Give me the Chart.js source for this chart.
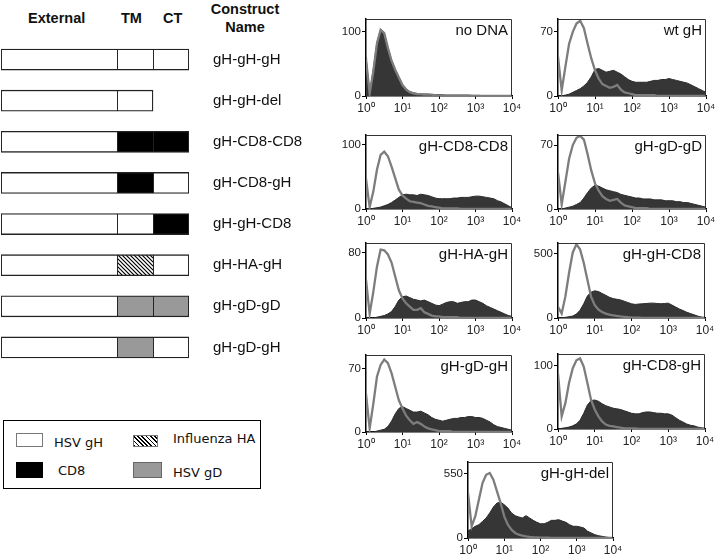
<!DOCTYPE html>
<html>
<head>
<meta charset="UTF-8">
<title>gH chimeric constructs - surface expression</title>
<script src="https://cdn.jsdelivr.net/npm/chart.js"></script>
<style>
  body { margin: 0; background: #fff; font-family: 'Liberation Sans', Arial, sans-serif; }
  #wrap { position: relative; width: 716px; height: 557px; overflow: hidden; }
  .hdr { position: absolute; font-weight: bold; font-size: 14.5px; line-height: 14.5px; color: #111; white-space: nowrap; }
  .plabel { position: absolute; font-size: 15px; line-height: 15px; color: #111; white-space: nowrap; text-align: right; }
  #legend { position: absolute; left: 3px; top: 420px; width: 256px; height: 67px; border: 1.3px solid #000;
            font-family: 'DejaVu Sans', sans-serif; font-size: 13px; color: #111; }
  .sw { position: absolute; box-sizing: border-box; }
  .lt { position: absolute; line-height: 13px; white-space: nowrap; }
</style>
</head>
<body>
<div id="wrap">
  <div class="hdr" style="left:28px;top:11px">External</div>
  <div class="hdr" style="left:121px;top:11px">TM</div>
  <div class="hdr" style="left:163px;top:11px">CT</div>
  <div class="hdr" style="left:195px;top:1px;width:100px;text-align:center;line-height:17.5px">Construct<br>Name</div>
  <canvas id="constructs" width="320" height="349" style="position:absolute;left:0;top:29px"></canvas>

  <div id="legend">
    <div class="sw" style="left:12px;top:12px;width:27px;height:14px;border:1px solid #777;background:#fff"></div>
    <div class="lt" style="left:50px;top:14.5px">HSV gH</div>
    <div class="sw" style="left:129px;top:14px;width:25px;height:12px;border:1px solid #777;
         background:repeating-linear-gradient(45deg,#000 0 1.2px,#fff 1.2px 3px)"></div>
    <div class="lt" style="left:169px;top:10.5px">Influenza HA</div>
    <div class="sw" style="left:12px;top:41px;width:27px;height:16px;background:#000"></div>
    <div class="lt" style="left:54px;top:42.5px">CD8</div>
    <div class="sw" style="left:129px;top:41px;width:29px;height:16px;border:1px solid #666;background:#999"></div>
    <div class="lt" style="left:169px;top:44.5px">HSV gD</div>
  </div>
</div>

<script>
// ---- construct diagram ----
const constructNames = ['gH-gH-gH', 'gH-gH-del', 'gH-CD8-CD8', 'gH-CD8-gH', 'gH-gH-CD8', 'gH-HA-gH', 'gH-gD-gD', 'gH-gD-gH'];
const tmDomain = ['gH', 'gH', 'CD8', 'CD8', 'gH', 'HA', 'gD', 'gD'];
const ctDomain = ['gH', null, 'CD8', 'gH', 'CD8', 'gH', 'gD', 'gH'];
// relative domain lengths
const externalLen = [116, 116, 116, 116, 116, 116, 116, 116];
const tmLen = [36, 36, 36, 36, 36, 36, 36, 36];
const ctLen = [36, null, 36, 36, 36, 36, 36, 36];

// ---- histograms: x = log10 fluorescence (decades), y = cell counts ----
const decades = [0, 0.1, 0.2, 0.3, 0.4, 0.5, 0.6, 0.7, 0.8, 0.9,
  1, 1.1, 1.2, 1.3, 1.4, 1.5, 1.6, 1.7, 1.8, 1.9,
  2, 2.1, 2.2, 2.3, 2.4, 2.5, 2.6, 2.7, 2.8, 2.9,
  3, 3.1, 3.2, 3.3, 3.4, 3.5, 3.6, 3.7, 3.8, 3.9, 4];
const decadeTicks = [0, 1, 2, 3, 4];
const decadeLabels = ['10⁰', '10¹', '10²', '10³', '10⁴'];

const panelNames = ['no DNA', 'wt gH', 'gH-CD8-CD8', 'gH-gD-gD', 'gH-HA-gH', 'gH-gH-CD8', 'gH-gD-gH', 'gH-CD8-gH', 'gH-gH-del'];
const countMax = [120, 84, 115, 81, 92, 580, 85, 119, 650];
const countTick = [100, 70, 100, 70, 80, 500, 70, 100, 550];

const noDnaCtrl = [58,4,38,82,103,98,75,55,41,29, 17,10,6,4,3,3,2,2,2,1, 1,1,1,1,1,1,1,1,1,0, 0,0,0,0,0,0,0,0,0,0, 0];
const noDnaCells = [60,5,42,84,104,99,76,56,42,30, 18,11,7,5,4,3,3,3,2,2, 2,2,1,1,1,1,1,1,1,1, 1,1,0,0,0,0,0,0,0,0, 0];
const wtCtrl = [43,6,32,57,70,79,82,74,57,41, 28,19,13,11,9,10,12,7,4,3, 2,1,1,1,1,1,1,0,0,0, 0,0,0,0,0,0,0,0,0,0, 0];
const wtCells = [0,0,1,2,4,6,8,11,15,21, 29,30,28,26,27,28,26,24,21,18, 16,15,15,15,15,16,17,17,18,18, 19,18,17,16,15,14,12,10,8,6, 4];
const cd8cd8Ctrl = [47,3,27,61,84,89,82,66,48,30, 21,16,12,11,10,9,7,5,4,3, 2,1,1,1,1,1,0,0,0,0, 0,0,0,0,0,0,0,0,0,0, 0];
const cd8cd8Cells = [0,0,1,2,3,5,7,10,14,18, 22,23,22,22,21,23,22,21,19,17, 16,16,16,16,17,17,18,18,18,19, 20,20,19,18,17,16,13,11,8,5, 2];
const gDgDCtrl = [40,5,30,55,70,78,80,76,60,42, 28,20,14,11,9,10,11,7,4,3, 2,1,1,1,1,0,0,0,0,0, 0,0,0,0,0,0,0,0,0,0, 0];
const gDgDCells = [0,0,1,2,3,5,7,12,18,23, 26,25,23,21,20,19,18,16,15,14, 13,12,12,11,11,11,10,10,10,9, 9,9,8,8,7,7,6,5,4,3, 2];
const haCtrl = [47,5,32,63,84,83,78,68,51,34, 24,18,14,10,10,12,7,5,3,2, 2,1,1,1,1,1,0,0,0,0, 0,0,0,0,0,0,0,0,0,0, 0];
const haCells = [0,0,0,1,2,3,5,8,14,22, 26,27,25,23,22,21,22,20,18,16, 15,17,19,20,20,18,19,20,20,22, 22,20,18,15,13,11,9,7,5,3, 2];
const gHcd8Ctrl = [86,34,165,348,505,570,531,427,296,165, 99,65,47,34,26,21,16,12,9,6, 4,3,2,1,1,1,0,0,0,0, 0,0,0,0,0,0,0,0,0,0, 0];
const gHcd8Cells = [0,2,5,10,15,30,60,110,170,200, 210,205,190,175,160,150,145,140,130,120, 110,105,108,110,112,115,115,112,110,112, 115,100,85,70,58,45,35,25,15,8, 3];
const gDgHCtrl = [42,4,31,61,74,80,76,65,50,35, 26,18,13,9,11,9,6,4,3,2, 1,1,1,1,0,0,0,0,0,0, 0,0,0,0,0,0,0,0,0,0, 0];
const gDgHCells = [0,0,0,1,2,3,6,12,20,26, 28,26,24,22,22,23,21,19,16,14, 13,12,13,14,15,15,16,16,17,17, 16,16,15,13,11,8,6,5,4,3, 2];
const cd8gHCtrl = [88,20,41,73,96,109,112,99,73,46, 31,20,12,7,5,4,3,2,1,1, 1,1,0,0,0,0,0,0,0,0, 0,0,0,0,0,0,0,0,0,0, 0];
const cd8gHCells = [0,1,2,3,5,8,14,25,38,45, 46,44,40,37,35,33,32,31,29,27, 25,24,24,26,27,27,26,25,25,24, 24,22,18,14,11,8,6,5,3,2, 1];
const delCtrl = [385,100,185,328,470,541,556,499,399,299, 185,114,71,43,28,20,14,10,7,5, 3,2,2,1,1,1,0,0,0,0, 0,0,0,0,0,0,0,0,0,0, 0];
const delCells = [60,80,100,114,142,171,214,265,299,305, 285,256,214,191,180,171,191,171,151,134, 122,122,134,151,151,157,145,134,114,100, 100,94,85,57,43,28,20,14,8,4, 2];

const ctrlSeries = [noDnaCtrl, wtCtrl, cd8cd8Ctrl, gDgDCtrl, haCtrl, gHcd8Ctrl, gDgHCtrl, cd8gHCtrl, delCtrl];
const cellSeries = [noDnaCells, wtCells, cd8cd8Cells, gDgDCells, haCells, gHcd8Cells, gDgHCells, cd8gHCells, delCells];

// plot-area boxes on the page
const panelBoxes = [
  { l: 366, t: 19, w: 146, h: 77 }, { l: 558, t: 19, w: 148, h: 77 },
  { l: 366, t: 135, w: 146, h: 74 }, { l: 558, t: 135, w: 148, h: 74 },
  { l: 366, t: 243, w: 146, h: 75 }, { l: 558, t: 243, w: 147, h: 75 },
  { l: 366, t: 355, w: 146, h: 77 }, { l: 558, t: 354, w: 147, h: 75 },
  { l: 468, t: 462, w: 145, h: 76 }
];

const FONT = "'Liberation Sans', Arial, sans-serif";
Chart.defaults.font.family = FONT;

// hatch for the influenza HA domain
function makeHatch() {
  const c = document.createElement('canvas');
  c.width = 4; c.height = 4;
  const g = c.getContext('2d');
  g.fillStyle = '#fff'; g.fillRect(0, 0, 4, 4);
  g.strokeStyle = '#000'; g.lineWidth = 1.2;
  g.beginPath();
  g.moveTo(-1, -1); g.lineTo(5, 5);
  g.moveTo(-1, 3); g.lineTo(1, 5);
  g.moveTo(3, -1); g.lineTo(5, 1);
  g.stroke();
  return g.createPattern(c, 'repeat');
}
const domainFill = { gH: '#ffffff', CD8: '#000000', gD: '#999999', HA: makeHatch() };

const B = 1.3;
const barCommon = { borderColor: '#222', borderSkipped: false, barThickness: 21 };
new Chart(document.getElementById('constructs'), {
  type: 'bar',
  data: {
    labels: constructNames,
    datasets: [
      { ...barCommon, label: 'External', data: externalLen,
        backgroundColor: constructNames.map(() => domainFill.gH),
        borderWidth: { top: B, bottom: B, left: B, right: 0 } },
      { ...barCommon, label: 'TM', data: tmLen,
        backgroundColor: tmDomain.map(d => domainFill[d]),
        borderWidth: ctx => ({ top: B, bottom: B, left: B, right: ctLen[ctx.dataIndex] == null ? B : 0 }) },
      { ...barCommon, label: 'CT', data: ctLen,
        backgroundColor: ctDomain.map(d => d ? domainFill[d] : 'rgba(0,0,0,0)'),
        borderWidth: B }
    ]
  },
  options: {
    indexAxis: 'y',
    responsive: false,
    animation: false,
    events: [],
    layout: { padding: { left: 1, right: 0, top: 10, bottom: 10 } },
    plugins: { legend: { display: false }, tooltip: { enabled: false } },
    scales: {
      x: { stacked: true, display: false, min: 0, max: 188 },
      y: {
        stacked: true,
        position: 'right',
        grid: { display: false, drawTicks: true, tickLength: 24 },
        border: { display: false },
        ticks: { padding: 0, color: '#111', font: { size: 15, family: FONT } },
        afterFit: s => { s.width = 131; }
      }
    }
  }
});

// frame on top and right of each histogram
const frame = {
  id: 'frame',
  afterDraw(c) {
    const { left, top, right, bottom } = c.chartArea;
    const g = c.ctx;
    g.save();
    g.strokeStyle = '#333';
    g.lineWidth = 1;
    g.beginPath();
    g.moveTo(left, top + 0.5);
    g.lineTo(right - 0.5, top + 0.5);
    g.lineTo(right - 0.5, bottom);
    g.stroke();
    g.restore();
  }
};

const wrap = document.getElementById('wrap');
const padL = 36, padT = 10, padR = 14, padB = 22;

panelNames.forEach((name, i) => {
  const box = panelBoxes[i];
  const cv = document.createElement('canvas');
  cv.width = box.w + padL + padR;
  cv.height = box.h + padT + padB;
  cv.style.position = 'absolute';
  cv.style.left = (box.l - padL) + 'px';
  cv.style.top = (box.t - padT) + 'px';
  wrap.appendChild(cv);

  const ctrl = ctrlSeries[i], cells = cellSeries[i];
  new Chart(cv, {
    type: 'line',
    data: {
      datasets: [
        { label: 'control', data: decades.map((x, k) => ({ x, y: ctrl[k] })),
          borderColor: '#7d7d7d', borderWidth: 2.3, pointRadius: 0, fill: false },
        { label: name, data: decades.map((x, k) => ({ x, y: cells[k] })),
          borderColor: '#2a2a2a', borderWidth: 1, backgroundColor: '#363636', pointRadius: 0, fill: 'origin' }
      ]
    },
    options: {
      responsive: false,
      animation: false,
      events: [],
      layout: { padding: { left: 0, top: padT, right: padR, bottom: 0 } },
      plugins: { legend: { display: false }, tooltip: { enabled: false } },
      scales: {
        x: {
          type: 'linear', min: 0, max: 4,
          afterBuildTicks: s => { s.ticks = decadeTicks.map(v => ({ value: v })); },
          ticks: { callback: v => decadeLabels[v], maxRotation: 0, autoSkip: false, padding: 2,
                   color: '#222', font: { size: 12 } },
          grid: { drawOnChartArea: false, tickLength: 3, color: '#000' },
          border: { color: '#000', width: 1.5 },
          afterFit: s => { s.height = padB; }
        },
        y: {
          min: 0, max: countMax[i],
          afterBuildTicks: s => { s.ticks = [{ value: 0 }, { value: countTick[i] }]; },
          ticks: { padding: 1, color: '#222', font: { size: 11.5 } },
          grid: { drawOnChartArea: false, tickLength: 4, color: '#000' },
          border: { color: '#000', width: 1.5 },
          afterFit: s => { s.width = padL; }
        }
      }
    },
    plugins: [frame]
  });

  const lab = document.createElement('div');
  lab.className = 'plabel';
  lab.textContent = name;
  lab.style.left = box.l + 'px';
  lab.style.width = (box.w - 4) + 'px';
  lab.style.top = (box.t + 3) + 'px';
  wrap.appendChild(lab);
});
</script>
</body>
</html>
